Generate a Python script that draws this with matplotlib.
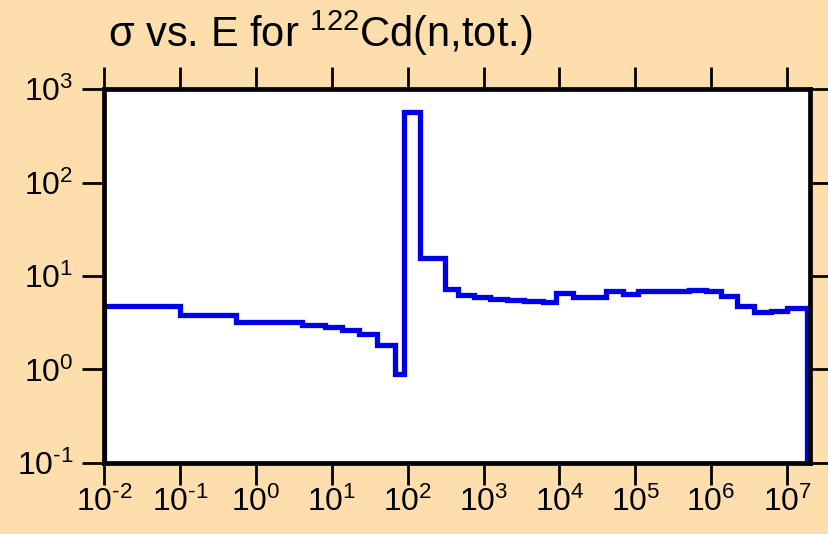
import numpy as np
import matplotlib
matplotlib.use('Agg')
import matplotlib.pyplot as plt
from matplotlib.ticker import FuncFormatter

plt.rcParams['font.family'] = ['Liberation Sans', 'DejaVu Sans']
plt.rcParams['mathtext.fontset'] = 'custom'
plt.rcParams['mathtext.rm'] = 'Liberation Sans'
plt.rcParams['mathtext.it'] = 'Liberation Sans'
plt.rcParams['mathtext.default'] = 'regular'

# group boundaries (eV) and group-averaged total cross section (b)
edges = [1e-2, 1e-1, 0.54, 4.0, 8.26, 13.7, 22.7, 39.9, 67.5, 90, 147, 307, 455,
         745, 1236, 2027, 3390, 6030, 9060, 1.5e4, 2.5e4, 4.1e4, 6.8e4, 1.1e5,
         1.87e5, 3.1e5, 5.14e5, 8.5e5, 1.35e6, 2.22e6, 3.68e6, 6.1e6, 1e7, 1.83e7]
sigma = [4.83, 3.78, 3.23, 2.99, 2.88, 2.67, 2.42, 1.82, 0.90, 563, 15.6, 7.28,
         6.34, 5.89, 5.65, 5.51, 5.37, 5.24, 6.66, 5.97, 6.0, 6.88, 6.41, 6.95,
         6.84, 6.98, 7.05, 6.88, 6.13, 4.83, 4.13, 4.2, 4.6]


def decade(v, pos):
    k = int(round(np.log10(v)))
    s = str(k).replace('-', r'\text{-}')
    return r'$10^{%s}$' % s


bg = '#FFDEAD'
fig = plt.figure(figsize=(8.29, 5.34), dpi=100, facecolor=bg)
ax = fig.add_axes([0.1255, 0.133, 0.8515, 0.7003])
ax.set_facecolor('white')

ax.stairs(sigma, edges, baseline=1e-3, color='#0000E6', linewidth=3.8)

ax.set_xscale('log')
ax.set_yscale('log')
ax.set_xlim(1e-2, 2e7)
ax.set_ylim(1e-1, 1e3)
ax.set_xticks([10.0**k for k in range(-2, 8)])
ax.set_yticks([10.0**k for k in range(-1, 4)])
ax.minorticks_off()
ax.xaxis.set_major_formatter(FuncFormatter(decade))
ax.yaxis.set_major_formatter(FuncFormatter(decade))

for s in ax.spines.values():
    s.set_linewidth(3.4)
ax.tick_params(which='major', direction='out', length=16, width=2,
               top=True, right=True, labelsize=23)
ax.tick_params(axis='x', pad=1)
ax.tick_params(axis='y', pad=6)

fig.text(108 / 829, 1 - 47 / 534, r'σ vs. E for $^{122}$Cd(n,tot.)',
         fontsize=30, ha='left', va='baseline')

fig.savefig('out.png', dpi=100, facecolor=bg)
